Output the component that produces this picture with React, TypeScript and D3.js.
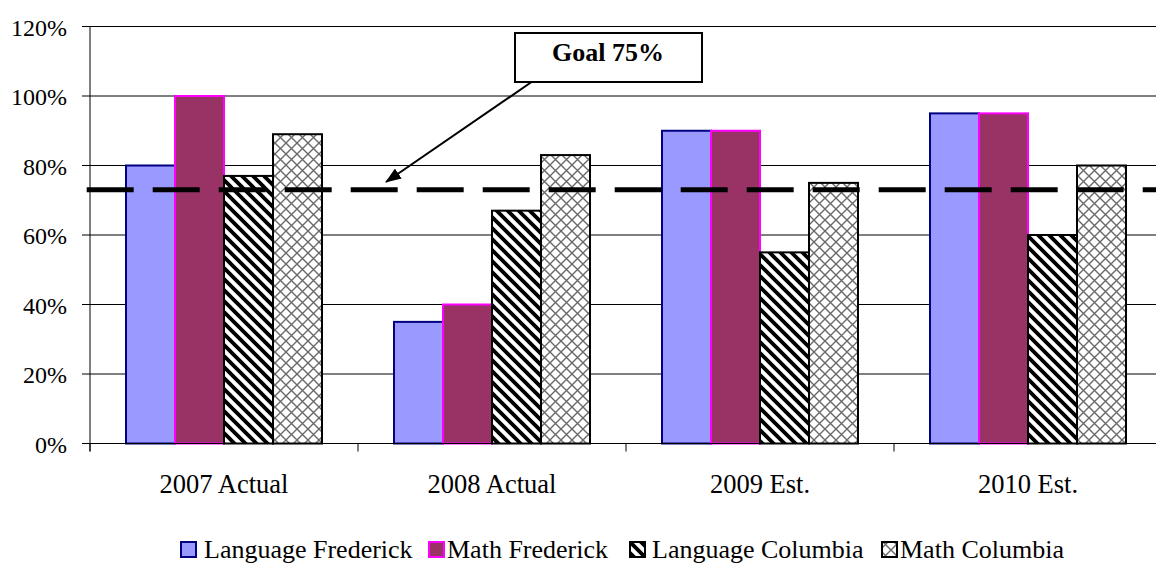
import React from "react";
import * as d3 from "d3";

const categories = ["2007 Actual", "2008 Actual", "2009 Est.", "2010 Est."];
const seriesNames = ["Language Frederick", "Math Frederick", "Language Columbia", "Math Columbia"];
const languageFrederick = [0.8, 0.35, 0.9, 0.95];
const mathFrederick = [1.0, 0.4, 0.9, 0.95];
const languageColumbia = [0.77, 0.67, 0.55, 0.6];
const mathColumbia = [0.89, 0.83, 0.75, 0.8];
const yTicks = [0, 0.2, 0.4, 0.6, 0.8, 1.0, 1.2];
const goalValue = 0.73;
const goalLabel = "Goal 75%";

const seriesValues = [languageFrederick, mathFrederick, languageColumbia, mathColumbia];
const fills = ["#9999FF", "#993366", "url(#stripes)", "url(#cross)"];
const strokes = ["#000080", "#FF00FF", "#000000", "#000000"];

const W = 1156;
const H = 564;
const left = 90;
const right = 1162;
const top = 26.5;
const bottom = 443.5;
const font = "'Liberation Serif', 'Times New Roman', serif";

export default function App() {
  const x0 = d3.scaleBand<string>().domain(categories).range([left, right]).paddingInner(0).paddingOuter(0);
  const step = x0.bandwidth();
  const x1 = d3.scaleBand<string>().domain(seriesNames).range([36, step - 36]).padding(0);
  const y = d3.scaleLinear().domain([0, 1.2]).range([bottom, top]);
  const fmt = d3.format(".0%");

  const legendItems = [
    { x: 180, tx: 204, i: 0 },
    { x: 428, tx: 447, i: 1 },
    { x: 629, tx: 652, i: 2 },
    { x: 881, tx: 900, i: 3 },
  ];

  return (
    <svg width={W} height={H} style={{ position: "absolute", left: 0, top: 0, background: "#fff" }}>
      <defs>
        <pattern id="stripes" patternUnits="userSpaceOnUse" width="11" height="11">
          <rect width="11" height="11" fill="#fff" />
          <path d="M-3,-3 L14,14 M-3,8 L3,14 M8,-3 L14,3" stroke="#000" strokeWidth="3.8" />
        </pattern>
        <pattern id="cross" patternUnits="userSpaceOnUse" width="11" height="11">
          <rect width="11" height="11" fill="#fff" />
          <path d="M0,0 L11,11 M11,0 L0,11" stroke="#6a6a6a" strokeWidth="1.4" />
        </pattern>
        <marker id="arrowhead" viewBox="0 0 16 12" refX="15" refY="6" markerWidth="16" markerHeight="12" orient="auto" markerUnits="userSpaceOnUse">
          <path d="M0,0 L16,6 L0,12 z" fill="#000" />
        </marker>
      </defs>
      <rect width={W} height={H} fill="#fff" />
      {yTicks.map((t) => (
        <line key={"g" + t} x1={left} x2={right} y1={y(t)} y2={y(t)} stroke="#000" strokeWidth={1} />
      ))}
      {yTicks.map((t) => (
        <g key={"t" + t}>
          <line x1={left - 8} x2={left} y1={y(t)} y2={y(t)} stroke="#000" strokeWidth={1} />
          <text x={67} y={y(t) + 9} textAnchor="end" fontFamily={font} fontSize={24} fill="#000">
            {fmt(t)}
          </text>
        </g>
      ))}
      {categories.map((c, ci) => (
        <g key={c}>
          {seriesNames.map((s, si) => {
            const v = seriesValues[si][ci];
            const bx = (x0(c) as number) + (x1(s) as number);
            return (
              <rect
                key={s}
                x={bx}
                y={y(v)}
                width={x1.bandwidth()}
                height={y(0) - y(v)}
                fill={fills[si]}
                stroke={strokes[si]}
                strokeWidth={2}
              />
            );
          })}
        </g>
      ))}
      <line x1={left} x2={left} y1={top} y2={bottom + 8} stroke="#000" strokeWidth={1} />
      <line x1={left} x2={right} y1={bottom} y2={bottom} stroke="#000" strokeWidth={1} />
      {categories.map((c) => (
        <line key={"ct" + c} x1={x0(c)} x2={x0(c)} y1={bottom} y2={bottom + 8} stroke="#000" strokeWidth={1} />
      ))}
      {categories.map((c) => (
        <text key={"cl" + c} x={(x0(c) as number) + step / 2} y={493} textAnchor="middle" fontFamily={font} fontSize={26.5} fill="#000">
          {c}
        </text>
      ))}
      <line x1={86.7} x2={W} y1={y(goalValue)} y2={y(goalValue)} stroke="#000" strokeWidth={5} strokeDasharray="47,19" />
      <line x1={533} y1={81} x2={386} y2={182} stroke="#000" strokeWidth={2} markerEnd="url(#arrowhead)" />
      <rect x={515} y={33} width={187} height={49} fill="#fff" stroke="#000" strokeWidth={2} />
      <text x={608} y={61} textAnchor="middle" fontFamily={font} fontSize={26} fontWeight="bold" fill="#000">
        {goalLabel}
      </text>
      {legendItems.map((it) => (
        <g key={seriesNames[it.i]}>
          <rect x={it.x + 1} y={542} width={15} height={15} fill={fills[it.i]} stroke={strokes[it.i]} strokeWidth={2} />
          <text x={it.tx} y={558} fontFamily={font} fontSize={26} fill="#000">
            {seriesNames[it.i]}
          </text>
        </g>
      ))}
    </svg>
  );
}
